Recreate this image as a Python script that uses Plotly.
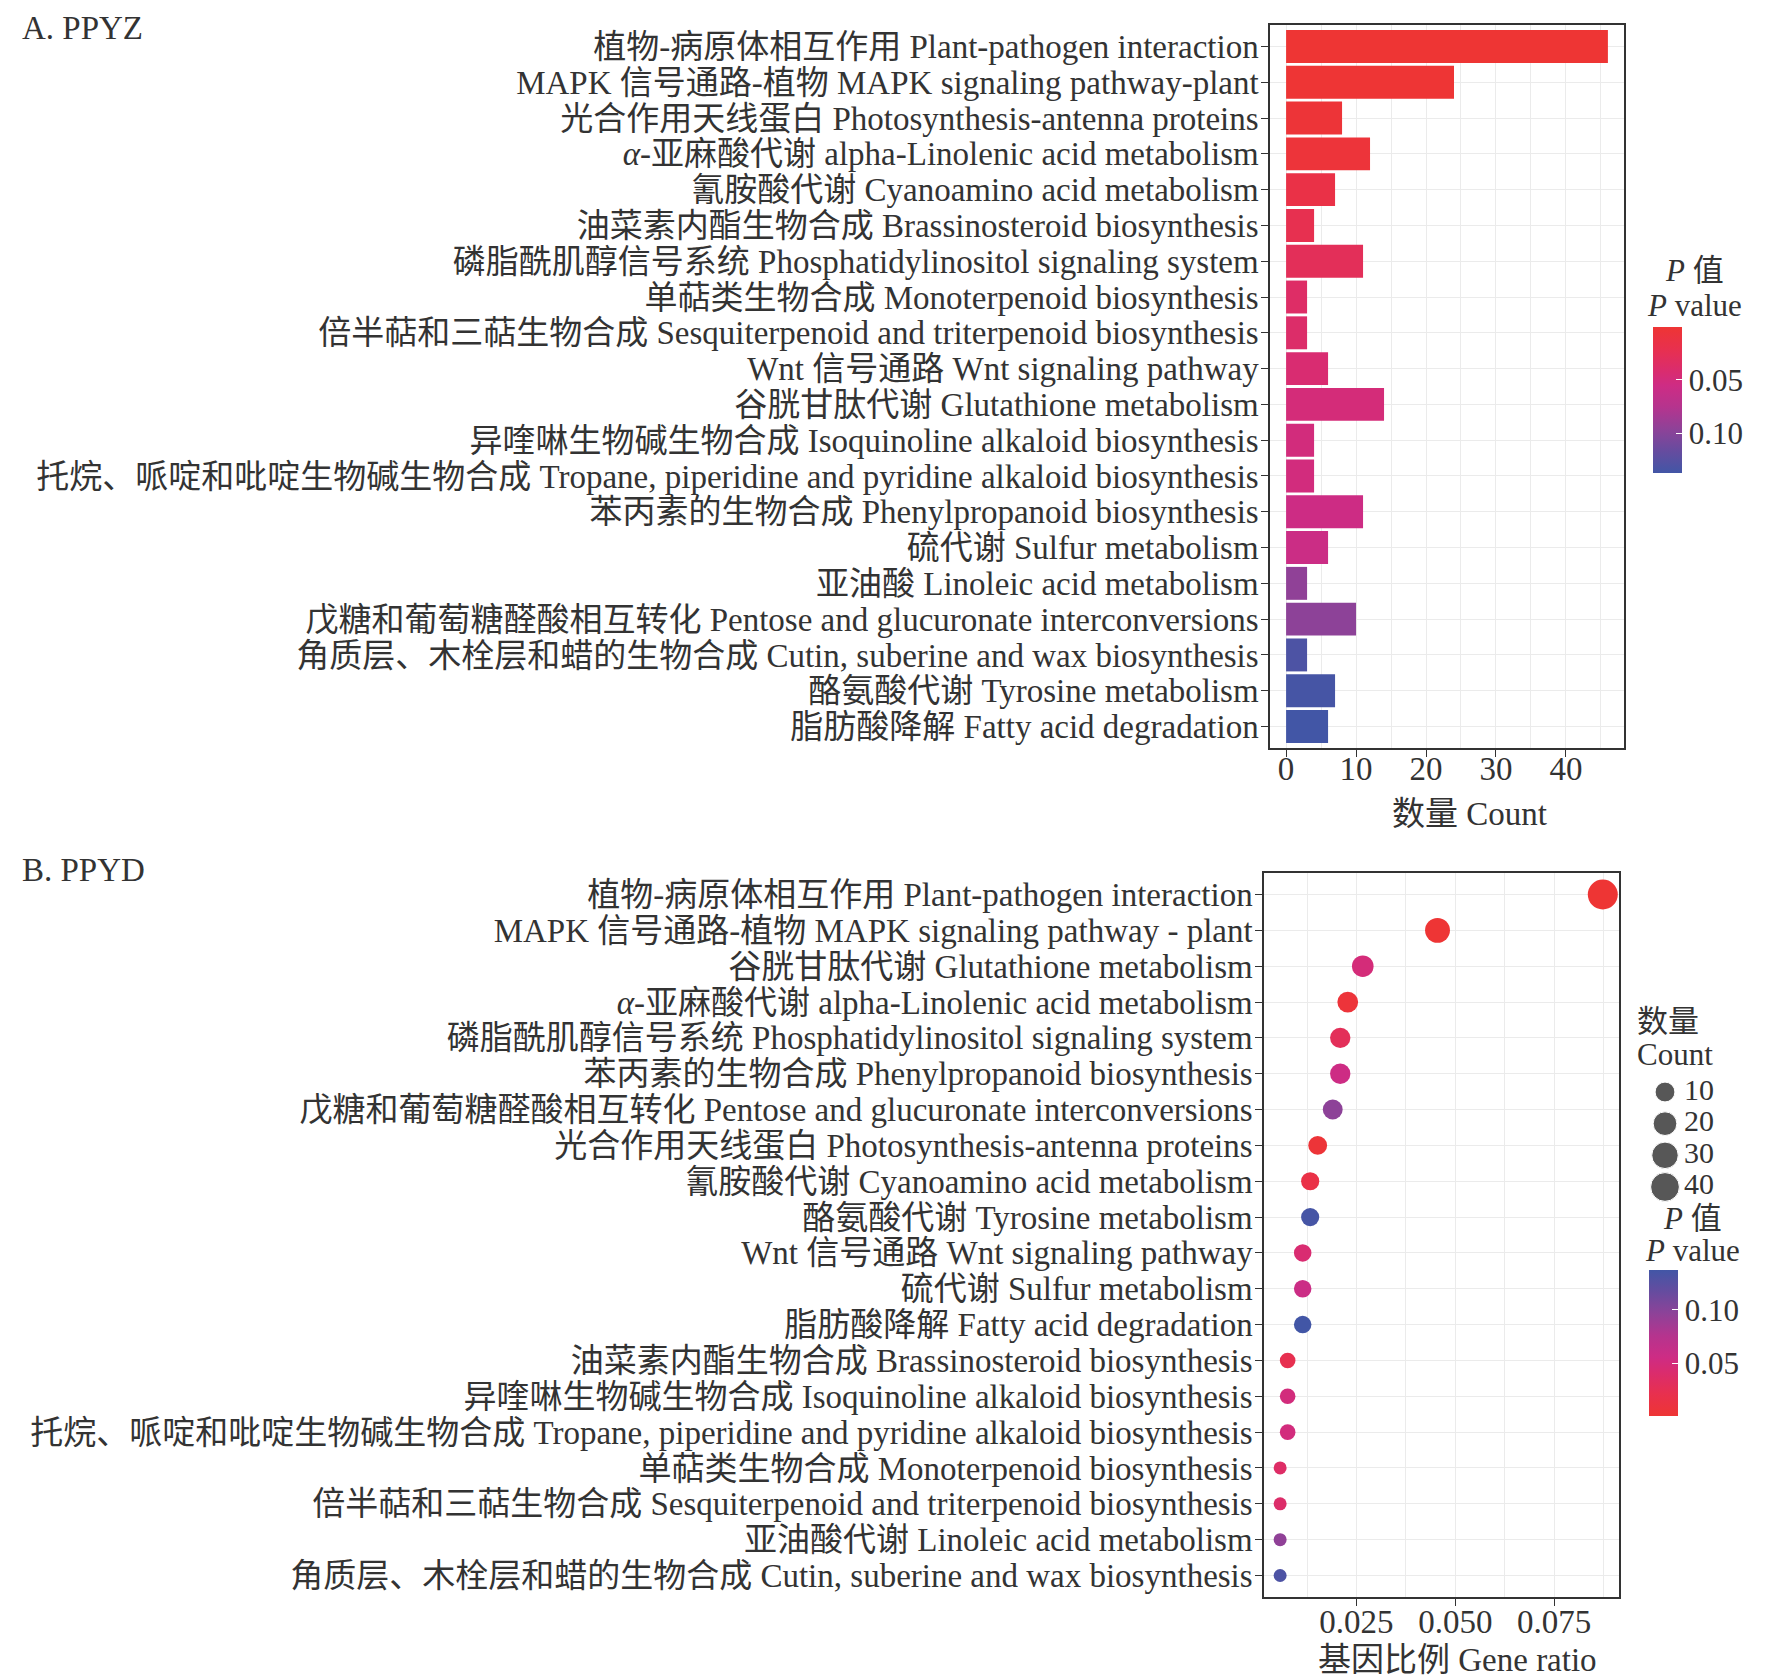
import math
import plotly.graph_objects as go

FONT = "Liberation Serif, Noto Sans CJK SC, serif"
TEXT = "#333333"
FS = 33
FS_LEG = 30
W, H = 1765, 1680

# ---- A. PPYZ : bar chart, ordered by P value ----
pathways_a = [
    "植物-病原体相互作用 Plant-pathogen interaction",
    "MAPK 信号通路-植物 MAPK signaling pathway-plant",
    "光合作用天线蛋白 Photosynthesis-antenna proteins",
    "<i>α</i>-亚麻酸代谢 alpha-Linolenic acid metabolism",
    "氰胺酸代谢 Cyanoamino acid metabolism",
    "油菜素内酯生物合成 Brassinosteroid biosynthesis",
    "磷脂酰肌醇信号系统 Phosphatidylinositol signaling system",
    "单萜类生物合成 Monoterpenoid biosynthesis",
    "倍半萜和三萜生物合成 Sesquiterpenoid and triterpenoid biosynthesis",
    "Wnt 信号通路 Wnt signaling pathway",
    "谷胱甘肽代谢 Glutathione metabolism",
    "异喹啉生物碱生物合成 Isoquinoline alkaloid biosynthesis",
    "托烷、哌啶和吡啶生物碱生物合成 Tropane, piperidine and pyridine alkaloid biosynthesis",
    "苯丙素的生物合成 Phenylpropanoid biosynthesis",
    "硫代谢 Sulfur metabolism",
    "亚油酸 Linoleic acid metabolism",
    "戊糖和葡萄糖醛酸相互转化 Pentose and glucuronate interconversions",
    "角质层、木栓层和蜡的生物合成 Cutin, suberine and wax biosynthesis",
    "酪氨酸代谢 Tyrosine metabolism",
    "脂肪酸降解 Fatty acid degradation",
]
counts_a = [46, 24, 8, 12, 7, 4, 11, 3, 3, 6, 14, 4, 4, 11, 6, 3, 10, 3, 7, 6]
pvalues_a = [0.0002, 0.001, 0.003, 0.005, 0.015, 0.022, 0.028, 0.036, 0.038, 0.043,
             0.048, 0.050, 0.051, 0.056, 0.058, 0.095, 0.097, 0.131, 0.135, 0.1375]

# ---- B. PPYD : dot plot, ordered by gene ratio ----
pathways_b = [
    "植物-病原体相互作用 Plant-pathogen interaction",
    "MAPK 信号通路-植物 MAPK signaling pathway - plant",
    "谷胱甘肽代谢 Glutathione metabolism",
    "<i>α</i>-亚麻酸代谢 alpha-Linolenic acid metabolism",
    "磷脂酰肌醇信号系统 Phosphatidylinositol signaling system",
    "苯丙素的生物合成 Phenylpropanoid biosynthesis",
    "戊糖和葡萄糖醛酸相互转化 Pentose and glucuronate interconversions",
    "光合作用天线蛋白 Photosynthesis-antenna proteins",
    "氰胺酸代谢 Cyanoamino acid metabolism",
    "酪氨酸代谢 Tyrosine metabolism",
    "Wnt 信号通路 Wnt signaling pathway",
    "硫代谢 Sulfur metabolism",
    "脂肪酸降解 Fatty acid degradation",
    "油菜素内酯生物合成 Brassinosteroid biosynthesis",
    "异喹啉生物碱生物合成 Isoquinoline alkaloid biosynthesis",
    "托烷、哌啶和吡啶生物碱生物合成 Tropane, piperidine and pyridine alkaloid biosynthesis",
    "单萜类生物合成 Monoterpenoid biosynthesis",
    "倍半萜和三萜生物合成 Sesquiterpenoid and triterpenoid biosynthesis",
    "亚油酸代谢 Linoleic acid metabolism",
    "角质层、木栓层和蜡的生物合成 Cutin, suberine and wax biosynthesis",
]
gene_ratio_b = [0.0873, 0.0455, 0.0266, 0.0228, 0.0209, 0.0209, 0.0190, 0.0152, 0.0133, 0.0133,
                0.0114, 0.0114, 0.0114, 0.0076, 0.0076, 0.0076, 0.0057, 0.0057, 0.0057, 0.0057]
counts_b = [46, 24, 14, 12, 11, 11, 10, 8, 7, 7, 6, 6, 6, 4, 4, 4, 3, 3, 3, 3]
pvalues_b = [0.0002, 0.001, 0.048, 0.005, 0.028, 0.056, 0.097, 0.003, 0.015, 0.135,
             0.043, 0.058, 0.1375, 0.022, 0.050, 0.051, 0.036, 0.038, 0.095, 0.131]

legend_counts = [10, 20, 30, 40]

# red (low P) -> magenta -> blue (high P)
colorscale = [
    [0.0, "#EE3534"], [0.15, "#E8304E"], [0.3, "#DA2C6E"], [0.4, "#CE2C84"],
    [0.55, "#B5348E"], [0.7, "#8E4298"], [0.85, "#664C9F"], [1.0, "#4256A6"],
]
# same scale flipped, for the bar panel whose colourbar has red on top
colorscale_flip = [[1 - s, c] for s, c in reversed(colorscale)]

pmin = min(pvalues_a + pvalues_b)
pmax = max(pvalues_a + pvalues_b)
cmin, cmax = min(counts_b), max(counts_b)


def dot_size(c):
    # area scaling like ggplot scale_size, diameters 13..30 px
    return 13 + 17 * math.sqrt((c - cmin) / (cmax - cmin))


def px(x):
    return x / W


def py(y):
    return 1 - y / H


fig = go.Figure()

# A: bars (colour on a negated P so the red end sits on top of the colourbar)
fig.add_trace(go.Bar(
    x=counts_a, y=pathways_a, orientation="h", width=0.92,
    marker=dict(color=[-p for p in pvalues_a], coloraxis="coloraxis", line_width=0),
    xaxis="x", yaxis="y", showlegend=False,
))

# B: dots
fig.add_trace(go.Scatter(
    x=gene_ratio_b, y=pathways_b, mode="markers",
    marker=dict(size=[dot_size(c) for c in counts_b], color=pvalues_b,
                coloraxis="coloraxis2", line_width=0, opacity=1),
    xaxis="x2", yaxis="y2", showlegend=False,
))

# B: size legend keys
fig.add_trace(go.Scatter(
    x=[17] * len(legend_counts), y=legend_counts, mode="markers",
    marker=dict(size=[dot_size(c) for c in legend_counts], color="#111111"),
    xaxis="x3", yaxis="y3", showlegend=False, hoverinfo="skip",
))
fig.add_trace(go.Scatter(
    x=[36] * len(legend_counts), y=legend_counts, mode="text",
    text=[str(c) for c in legend_counts], textposition="middle right",
    textfont=dict(family=FONT, size=FS_LEG, color=TEXT),
    xaxis="x3", yaxis="y3", showlegend=False, hoverinfo="skip",
))

axis_common = dict(
    showline=True, mirror=True, linecolor="#333333", linewidth=1.5,
    gridcolor="#EBEBEB", gridwidth=1.4, zeroline=False,
    ticks="outside", ticklen=7, tickwidth=1.4, tickcolor="#333333",
    tickfont=dict(family=FONT, size=FS, color=TEXT),
)

cb_common = dict(
    thickness=29, lenmode="pixels", len=146, xanchor="left", xpad=0, ypad=0,
    outlinewidth=0, ticks="inside", ticklen=6, tickcolor="white", tickwidth=1.2,
    tickfont=dict(family=FONT, size=FS_LEG + 1, color=TEXT), yanchor="middle",
)

fig.update_layout(
    width=W, height=H, margin=dict(l=0, r=0, t=0, b=0),
    paper_bgcolor="white", plot_bgcolor="white",
    font=dict(family=FONT, size=FS, color=TEXT),
    bargap=0.08,
    xaxis=dict(axis_common, domain=[px(1262), px(1616)], anchor="y",
               range=[-2.3, 48.3], tick0=0, dtick=10, ticklabelstandoff=-16,
               minor=dict(dtick=5, showgrid=True, gridcolor="#EBEBEB", gridwidth=0.8)),
    yaxis=dict(axis_common, domain=[py(740), py(17)], anchor="x", type="category",
               categoryorder="array", categoryarray=pathways_a, range=[19.6, -0.6],
               tickmode="array", tickvals=pathways_a, ticktext=pathways_a,
               ticklabelstandoff=-4),
    xaxis2=dict(axis_common, domain=[px(1256), px(1611)], anchor="y2",
                range=[0.00162, 0.0914], tick0=0, dtick=0.025, tickformat=".3f",
                ticklabelstandoff=-12,
                minor=dict(dtick=0.0125, showgrid=True, gridcolor="#EBEBEB", gridwidth=0.8)),
    yaxis2=dict(axis_common, domain=[py(1589), py(865)], anchor="x2", type="category",
                categoryorder="array", categoryarray=pathways_b, range=[19.6, -0.6],
                tickmode="array", tickvals=pathways_b, ticktext=pathways_b,
                ticklabelstandoff=-4),
    xaxis3=dict(domain=[px(1640), 1.0], anchor="y3", range=[0, 125], visible=False),
    yaxis3=dict(domain=[py(1194.8), py(1068.2)], anchor="x3", range=[45, 5], visible=False),
    coloraxis=dict(colorscale=colorscale_flip, cmin=-pmax, cmax=-pmin,
                   colorbar=dict(cb_common, x=px(1645), y=py(392),
                                 tickvals=[-0.05, -0.10], ticktext=["0.05", "0.10"])),
    coloraxis2=dict(colorscale=colorscale, cmin=pmin, cmax=pmax,
                    colorbar=dict(cb_common, x=px(1641), y=py(1335),
                                  tickvals=[0.05, 0.10], ticktext=["0.05", "0.10"])),
)

notes = [
    ("A. PPYZ", 12, 20, "left", FS),
    ("B. PPYD", 12, 862, "left", FS),
    ("数量 Count", 1461, 806, "center", FS),
    ("基因比例 Gene ratio", 1449, 1652, "center", FS),
    ("<i>P</i> 值", 1686, 262, "center", FS_LEG + 1),
    ("<i>P</i> value", 1686, 297, "center", FS_LEG + 1),
    ("数量", 1627, 1014, "left", FS_LEG + 1),
    ("Count", 1627, 1046, "left", FS_LEG + 1),
    ("<i>P</i> 值", 1684, 1210, "center", FS_LEG + 1),
    ("<i>P</i> value", 1684, 1242, "center", FS_LEG + 1),
]
for txt, x, y, anchor, size in notes:
    fig.add_annotation(text=txt, x=px(x), y=py(y), xref="paper", yref="paper",
                       xanchor=anchor, yanchor="middle", showarrow=False,
                       font=dict(family=FONT, size=size, color=TEXT))

fig.write_html("out.html")
